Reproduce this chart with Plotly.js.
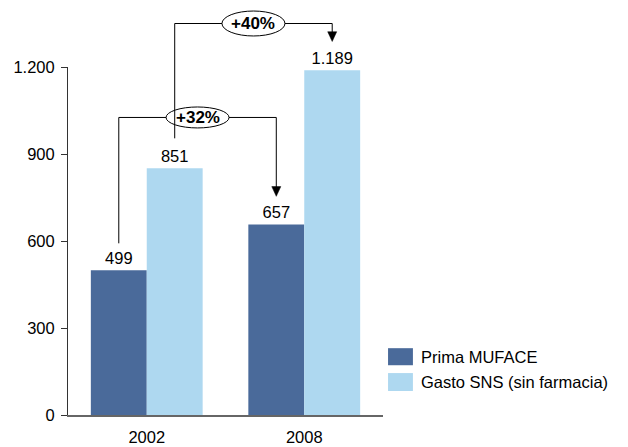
<!DOCTYPE html>
<html><head><meta charset="utf-8">
<script src="https://cdn.plot.ly/plotly-3.0.1.min.js"></script>
<style>html,body{margin:0;padding:0;background:#fff}#chart{width:628px;height:447px}</style>
</head><body><div id="chart"></div>
<script>
var years = ['2002', '2008'];
var primaMuface = [499, 657];
var gastoSNS = [851, 1189];
var seriesNames = ['Prima MUFACE', 'Gasto SNS (sin farmacia)'];
var changeLabels = ['+32%', '+40%'];
var yTicks = [0, 300, 600, 900, 1200];

var colDark = '#4A6A9A', colLight = '#AED8F0';
var FONT = 'Liberation Sans, Arial, sans-serif';
var FS = 16.5;
var yMax = 1200;
var bargap = 0.29;
var nCat = years.length;
function catX(i, which) {
  var groupW = 1 - bargap, barW = groupW / 2;
  var c = i + which * barW / 2;
  return (c + 0.5) / nCat;
}
function valY(v) { return v / yMax; }

var traces = [
  {type: 'bar', x: years, y: primaMuface, name: seriesNames[0], marker: {color: colDark},
   text: primaMuface, texttemplate: '%{y:,}', textposition: 'outside', cliponaxis: false,
   textfont: {family: FONT, size: FS, color: '#000'}, showlegend: false, hoverinfo: 'none'},
  {type: 'bar', x: years, y: gastoSNS, name: seriesNames[1], marker: {color: colLight},
   text: gastoSNS, texttemplate: '%{y:,}', textposition: 'outside', cliponaxis: false,
   textfont: {family: FONT, size: FS, color: '#000'}, showlegend: false, hoverinfo: 'none'}
];

var shapes = [], annotations = [];
function connector(x0, yStart, x1, yTop, yEnd, label, ellH) {
  shapes.push({type: 'path', xref: 'paper', yref: 'paper',
    path: 'M' + x0 + ',' + yStart + ' L' + x0 + ',' + yTop + ' L' + x1 + ',' + yTop + ' L' + x1 + ',' + (yEnd + 0.025),
    line: {color: '#000', width: 1}});
  var hw = 4.5 / 315, hh = 0.028;
  shapes.push({type: 'path', xref: 'paper', yref: 'paper',
    path: 'M' + (x1 - hw) + ',' + (yEnd + hh) + ' L' + (x1 + hw) + ',' + (yEnd + hh) + ' L' + x1 + ',' + yEnd + ' Z',
    fillcolor: '#000', line: {color: '#000', width: 0.5}});
  var cx = (x0 + x1) / 2, hwE = 31.5 / 315, hhE = ellH / 348.5;
  shapes.push({type: 'circle', xref: 'paper', yref: 'paper',
    x0: cx - hwE, x1: cx + hwE, y0: yTop - hhE, y1: yTop + hhE,
    fillcolor: '#fff', line: {color: '#000', width: 1}});
  annotations.push({xref: 'paper', yref: 'paper', x: cx, y: yTop, text: '<b>' + label + '</b>',
    showarrow: false, font: {family: FONT, size: 17, color: '#000'}, xanchor: 'center', yanchor: 'middle'});
}
connector(catX(0, -1), valY(592), catX(1, -1), valY(1026), valY(754), changeLabels[0], 10.5);
connector(catX(0, 1), valY(954), catX(1, 1), valY(1350), valY(1288), changeLabels[1], 12.5);

var legCols = [colDark, colLight];
var legY = [[0.143, 0.192], [0.069, 0.1205]];
for (var k = 0; k < 2; k++) {
  shapes.push({type: 'rect', xref: 'paper', yref: 'paper', x0: 1.016, x1: 1.095,
    y0: legY[k][0], y1: legY[k][1], fillcolor: legCols[k], line: {width: 0}});
  annotations.push({xref: 'paper', yref: 'paper', x: 1.114, y: (legY[k][0] + legY[k][1]) / 2,
    text: seriesNames[k], showarrow: false, xanchor: 'left', yanchor: 'middle',
    font: {family: FONT, size: FS, color: '#000'}});
}

var layout = {
  width: 628, height: 447,
  margin: {l: 68, r: 245, t: 66.5, b: 32, pad: 0},
  paper_bgcolor: '#fff', plot_bgcolor: '#fff',
  separators: ',.',
  barmode: 'group', bargap: bargap, bargroupgap: 0,
  showlegend: false,
  font: {family: FONT, size: FS, color: '#000'},
  xaxis: {type: 'category', range: [-0.5, 1.5], showline: true, linecolor: '#666', linewidth: 2,
    ticks: '', ticklabelstandoff: 6, showgrid: false, zeroline: false,
    tickfont: {family: FONT, size: FS, color: '#000'}, fixedrange: true},
  yaxis: {range: [0, yMax], tickvals: yTicks,
    ticktext: yTicks.map(function(v){return v >= 1000 ? (Math.floor(v/1000) + '.' + String(v%1000).padStart(3,'0')) : String(v);}),
    showline: true, linecolor: '#333', linewidth: 1, ticks: 'outside', ticklen: 6, tickcolor: '#333',
    ticklabelstandoff: 3,
    showgrid: false, zeroline: false, tickfont: {family: FONT, size: FS, color: '#000'}, fixedrange: true},
  shapes: shapes, annotations: annotations
};
Plotly.newPlot('chart', traces, layout, {displayModeBar: false, staticPlot: true});
</script></body></html>
